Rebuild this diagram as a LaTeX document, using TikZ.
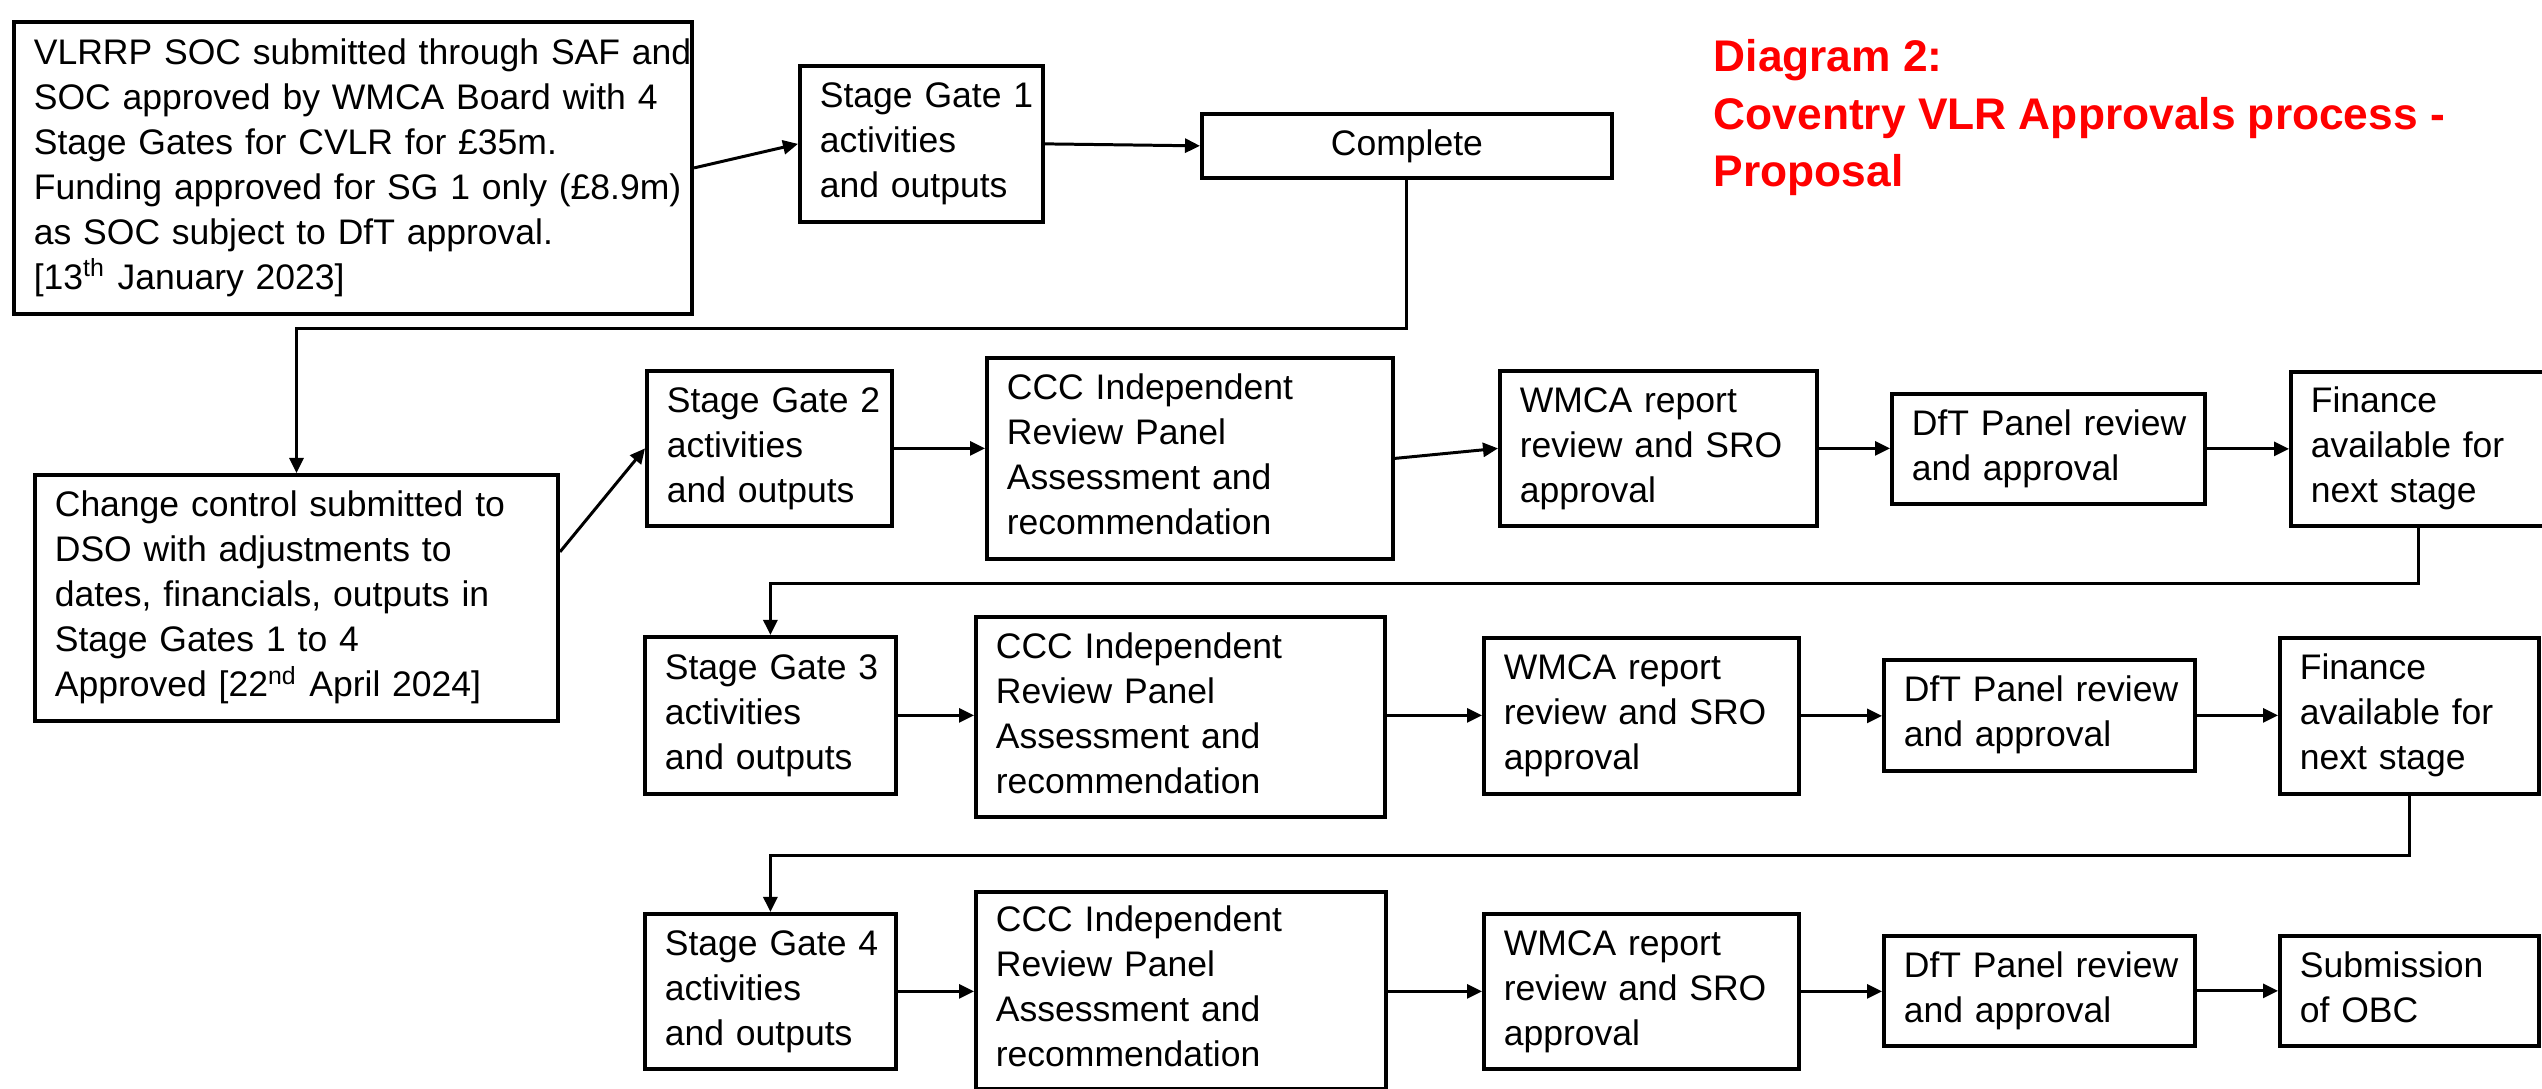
\documentclass[tikz,border=0pt]{standalone}
\usepackage{fontspec}
\setmainfont{Liberation Sans}
\usetikzlibrary{arrows.meta,calc}
\newcommand\bt[1]{\begin{tabular}{@{}l@{}}#1\end{tabular}}
\begin{document}
\begin{tikzpicture}[x=0.01cm, y=-0.01cm,
  box/.style={draw, line width=1.05pt, anchor=north west, inner xsep=0.2cm, inner ysep=0pt, align=left,
    font=\fontsize{10.1pt}{12.8pt}\selectfont},
  arr/.style={line width=0.85pt, -{Triangle[length=0.15cm,width=0.14cm]}},
  title/.style={anchor=base west, inner sep=0pt, text=red, font=\bfseries\fontsize{12.6pt}{15pt}\selectfont}
]
\useasboundingbox (0,0) rectangle (2542,1089);
\clip (0,0) rectangle (2542,1089);
\fill[white] (0,0) rectangle (2542,1089);

% title
\node[title] (t1) at (1713,72) {Diagram 2:};
\node[title] (t2) at (1713,130) {Coventry VLR Approvals process -};
\node[title] (t3) at (1713,187) {Proposal};

% row 1
\node[box, text width=6.38cm, minimum height=2.92cm] (a) at (12,20)
  {\bt{VLRRP SOC submitted through SAF and\\SOC approved by WMCA Board with 4\\Stage Gates for CVLR for £35m.\\Funding approved for SG 1 only (£8.9m)\\as SOC subject to DfT approval.\\{[}13\textsuperscript{th} January 2023{]}}};
\node[box, text width=2.03cm, minimum height=1.56cm] (sg1) at (798,64)
  {\bt{Stage Gate 1\\activities\\and outputs}};
\node[box, align=center, minimum width=4.10cm, minimum height=0.64cm] (comp) at (1200,112) {Complete};

% change control
\node[box, text width=4.83cm, minimum height=2.46cm] (chg) at (33,473)
  {\bt{Change control submitted to\\DSO with adjustments to\\dates, financials, outputs in\\Stage Gates 1 to 4\\Approved {[}22\textsuperscript{nd} April 2024{]}}};

% row 2
\node[box, text width=2.05cm, minimum height=1.55cm] (sg2) at (645,369)
  {\bt{Stage Gate 2\\activities\\and outputs}};
\node[box, text width=3.66cm, minimum height=2.01cm] (ccc2) at (985,356)
  {\bt{CCC Independent\\Review Panel\\Assessment and\\recommendation}};
\node[box, text width=2.77cm, minimum height=1.55cm] (wm2) at (1498,369)
  {\bt{WMCA report\\review and SRO\\approval}};
\node[box, text width=2.73cm, minimum height=1.10cm] (dft2) at (1890,392)
  {\bt{DfT Panel review\\and approval}};
\node[box, text width=2.16cm, minimum height=1.54cm] (fin2) at (2289,370)
  {\bt{Finance\\available for\\next stage}};

% row 3
\node[box, text width=2.11cm, minimum height=1.57cm] (sg3) at (643,635)
  {\bt{Stage Gate 3\\activities\\and outputs}};
\node[box, text width=3.69cm, minimum height=2.00cm] (ccc3) at (974,615)
  {\bt{CCC Independent\\Review Panel\\Assessment and\\recommendation}};
\node[box, text width=2.75cm, minimum height=1.56cm] (wm3) at (1482,636)
  {\bt{WMCA report\\review and SRO\\approval}};
\node[box, text width=2.71cm, minimum height=1.11cm] (dft3) at (1882,658)
  {\bt{DfT Panel review\\and approval}};
\node[box, text width=2.19cm, minimum height=1.56cm] (fin3) at (2278,636)
  {\bt{Finance\\available for\\next stage}};

% row 4
\node[box, text width=2.11cm, minimum height=1.55cm] (sg4) at (643,912)
  {\bt{Stage Gate 4\\activities\\and outputs}};
\node[box, text width=3.70cm, minimum height=1.97cm] (ccc4) at (974,890)
  {\bt{CCC Independent\\Review Panel\\Assessment and\\recommendation}};
\node[box, text width=2.75cm, minimum height=1.55cm] (wm4) at (1482,912)
  {\bt{WMCA report\\review and SRO\\approval}};
\node[box, text width=2.71cm, minimum height=1.10cm] (dft4) at (1882,934)
  {\bt{DfT Panel review\\and approval}};
\node[box, text width=2.19cm, minimum height=1.10cm] (sub) at (2278,934)
  {\bt{Submission\\of OBC}};

% connectors
\draw[arr] (a.east) -- (sg1.west);
\draw[arr] (sg1.east) -- (comp.west);
\draw[arr] (comp.south) -- ++(0,149) -| (chg.north);
\draw[arr] ([yshift=0.46cm]chg.east) -- (sg2.west);

\draw[arr] (sg2.east) -- (sg2.east -| ccc2.west);
\draw[arr] (ccc2.east) -- (wm2.west);
\draw[arr] (wm2.east) -- (wm2.east -| dft2.west);
\draw[arr] (dft2.east) -- (dft2.east -| fin2.west);
\draw[arr] (fin2.south) -- ++(0,56) -| (sg3.north);

\draw[arr] (sg3.east) -- (sg3.east -| ccc3.west);
\draw[arr] (sg3.east -| ccc3.east) -- (sg3.east -| wm3.west);
\draw[arr] (wm3.east) -- (wm3.east -| dft3.west);
\draw[arr] (dft3.east) -- (dft3.east -| fin3.west);
\draw[arr] (fin3.south) -- ++(0,60) -| (sg4.north);

\draw[arr] (sg4.east) -- (sg4.east -| ccc4.west);
\draw[arr] (sg4.east -| ccc4.east) -- (sg4.east -| wm4.west);
\draw[arr] (wm4.east) -- (wm4.east -| dft4.west);
\draw[arr] (dft4.east) -- (dft4.east -| sub.west);
\end{tikzpicture}
\end{document}
